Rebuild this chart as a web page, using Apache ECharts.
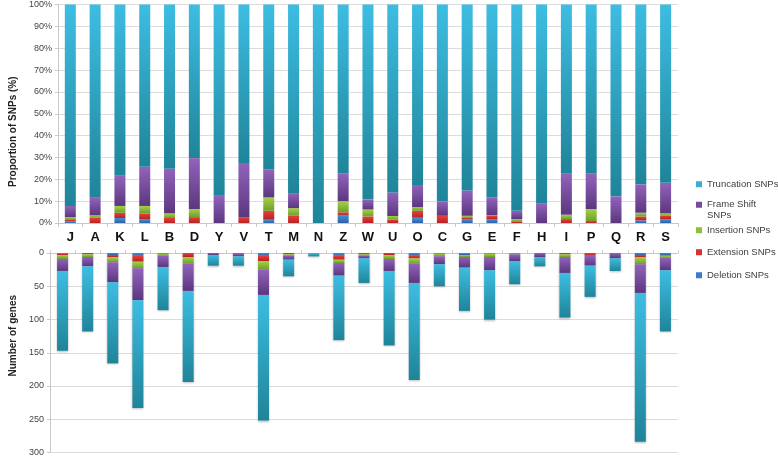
<!DOCTYPE html>
<html><head><meta charset="utf-8">
<script src="https://cdn.jsdelivr.net/npm/echarts@6/dist/echarts.min.js"></script>
<style>html,body{margin:0;padding:0;background:#fff}#c{width:778px;height:457px}</style>
</head><body><div id="c"></div>
<script>
var categories = ['J','A','K','L','B','D','Y','V','T','M','N','Z','W','U','O','C','G','E','F','H','I','P','Q','R','S'];
var seriesNames = ['Deletion SNPs','Extension SNPs','Insertion SNPs','Frame Shift SNPs','Truncation SNPs'];
var pctTicks = [0,10,20,30,40,50,60,70,80,90,100];
var geneTicks = [0,50,100,150,200,250,300];

// Proportion of SNPs (%)
var pctDeletion   = [0.7,0,2.3,1.8,0,0,0,0,1.5,0,0,3.7,0,0,2.4,0,1.8,1.8,0,0,0,0,0,1.2,1.8];
var pctExtension  = [1.0,2.4,2.4,2.6,2.3,2.7,0,2.7,4.1,3.3,0,1.2,3.0,1.5,3.2,3.3,0.5,1.4,0.8,0,1.8,0.9,0,1.8,1.5];
var pctInsertion  = [1.0,1.1,3.1,3.4,2.1,3.7,0,0,6.1,3.5,0,5.1,3.2,1.7,1.7,0,1.0,0.3,1.0,0,2.0,5.5,0,1.7,1.1];
var pctFrameShift = [5.1,8.1,13.8,17.9,20.4,23.3,12.8,24.8,12.8,6.9,0,12.7,4.5,10.8,10.1,6.6,11.6,8.2,3.8,8.8,19.0,16.1,12.2,13.0,14.0];
var pctTruncation = [92.2,88.4,78.4,74.3,75.2,70.3,87.2,72.5,75.5,86.3,100,77.3,89.3,86.0,82.6,90.1,85.1,88.3,94.4,91.2,77.2,77.5,87.8,82.3,81.6];

// Number of genes
var genDeletion   = [1,0,3,4,0,0,0,0,4,0,0,4,0,0,4,0,3,1,0,0,0,0,0,3,3];
var genExtension  = [2,2,3,9,1,6,0,1,8,2,0,6,2,3,4,1,0,0,1,0,2,4,0,3,1];
var genInsertion  = [6,4,8,10,3,10,0,0,13,2,0,5,2,6,8,4,3,5,1,0,4,0,0,11,3];
var genFrameShift = [18,14,30,48,17,41,3,4,38,6,0,19,4,18,29,12,16,20,10,6,24,15,8,43,19];
var genTruncation = [120,98,122,162,65,137,16,14,189,25,5,97,37,112,146,33,65,74,35,14,67,47,19,224,92];

function grad(a,b){return new echarts.graphic.LinearGradient(0,0,0,1,[{offset:0,color:a},{offset:1,color:b}]);}
var colTop = {
  'Deletion SNPs':['#4a8fd8','#2a62a6'],
  'Extension SNPs':['#e8403c','#b52222'],
  'Insertion SNPs':['#a4d048','#6f9f28'],
  'Frame Shift SNPs':['#9263bb','#5b377f'],
  'Truncation SNPs':['#3dbde2','#1f8499']
};
var solid = {'Deletion SNPs':'#3a7cc8','Extension SNPs':'#d83232','Insertion SNPs':'#8cc03a','Frame Shift SNPs':'#7a4aa0','Truncation SNPs':'#35b0d4'};

var pctData = [pctDeletion,pctExtension,pctInsertion,pctFrameShift,pctTruncation];
var genData = [genDeletion,genExtension,genInsertion,genFrameShift,genTruncation];

var series = [];
seriesNames.forEach(function(n,i){
  series.push({name:n,type:'bar',stack:'pct',xAxisIndex:0,yAxisIndex:0,barWidth:11,data:pctData[i],
    itemStyle:{color:grad(colTop[n][0],colTop[n][1])}});
});
seriesNames.forEach(function(n,i){
  series.push({name:n,type:'bar',stack:'gen',xAxisIndex:1,yAxisIndex:1,barWidth:11,data:genData[i],
    itemStyle:{color:grad(colTop[n][0],colTop[n][1]),shadowColor:'rgba(0,0,0,0.25)',shadowBlur:2,shadowOffsetY:1}});
});

var legendOrder = ['Truncation SNPs','Frame Shift SNPs','Insertion SNPs','Extension SNPs','Deletion SNPs'];
var legendTops = [174,184,220,242,265];
var legends = legendOrder.map(function(n,i){
  return {
    data:[{name:n,itemStyle:{color:solid[n]}}],
    left:691, top:legendTops[i], orient:'vertical', icon:'rect', itemWidth:6, itemHeight:6,
    selectedMode:false,
    textStyle:{fontFamily:'Liberation Sans, Arial',fontSize:9.5,color:'#404040',lineHeight:10.5},
    formatter: n==='Frame Shift SNPs' ? function(){return '\nFrame Shift\nSNPs';} : '{name}'
  };
});

var chart = echarts.init(document.getElementById('c'),null,{renderer:'canvas'});
chart.setOption({
  animation:false,
  backgroundColor:'#ffffff',
  textStyle:{fontFamily:'Liberation Sans, Arial'},
  legend: legends,
  grid:[
    {left:40,right:100,top:4,height:219},
    {left:40,right:100,top:253,height:200}
  ],
  xAxis:[
    {type:'category',gridIndex:0,data:categories,position:'bottom',
     axisLine:{lineStyle:{color:'#c8c8c8'}},
     axisTick:{show:true,length:4,lineStyle:{color:'#c8c8c8'}},
     axisLabel:{fontSize:13,fontWeight:'bold',color:'#111',margin:8,interval:0}},
    {type:'category',gridIndex:1,data:categories,position:'top',
     axisLine:{lineStyle:{color:'#c8c8c8'}},
     axisTick:{show:true,length:3,lineStyle:{color:'#d0d0d0'}},
     axisLabel:{show:false}}
  ],
  yAxis:[
    {type:'value',gridIndex:0,min:pctTicks[0],max:pctTicks[pctTicks.length-1],interval:10,
     name:'Proportion of SNPs (%)',nameLocation:'middle',nameGap:32,
     nameTextStyle:{fontSize:10,fontWeight:'bold',color:'#222',padding:[0,36,0,0]},
     axisLine:{show:true,lineStyle:{color:'#c8c8c8'}},
     axisTick:{show:true,length:3,lineStyle:{color:'#c8c8c8'}},
     axisLabel:{fontSize:9,color:'#444',margin:6,formatter:'{value}%'},
     splitLine:{lineStyle:{color:'#dcdcdc'}}},
    {type:'value',gridIndex:1,min:geneTicks[0],max:geneTicks[geneTicks.length-1],interval:50,inverse:true,
     name:'Number of genes',nameLocation:'middle',nameGap:32,
     nameTextStyle:{fontSize:10,fontWeight:'bold',color:'#222',padding:[0,0,0,34]},
     axisLine:{show:true,lineStyle:{color:'#c8c8c8'}},
     axisTick:{show:true,length:3,lineStyle:{color:'#c8c8c8'}},
     axisLabel:{fontSize:9,color:'#444',margin:6},
     splitLine:{lineStyle:{color:'#dcdcdc'}}}
  ],
  series:series
});
</script></body></html>
